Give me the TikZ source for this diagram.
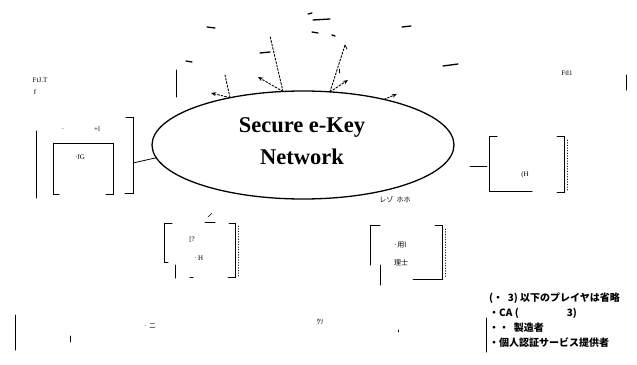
\documentclass[tikz,border=0pt]{standalone}
\usepackage{fontspec}
\setmainfont{Liberation Serif}
\newfontfamily\jp{Noto Sans CJK JP}
\usetikzlibrary{shapes.geometric,arrows.meta}
\begin{document}
\begin{tikzpicture}[x=1pt,y=-1pt,line cap=round,
  brk/.style={line width=1pt},
  dsh/.style={dashed,dash pattern=on 2pt off 1.6pt,line width=0.9pt},
  smark/.style={line width=1.3pt},
  scrap/.style={font=\fontsize{7}{7}\selectfont,inner sep=0pt},
  title/.style={font=\bfseries\fontsize{22.5}{22.5}\selectfont,inner sep=0pt},
  note/.style={font=\jp\bfseries\fontsize{10}{10}\selectfont,inner sep=0pt,anchor=west}]
\useasboundingbox (0,0) rectangle (637,364);
% network ellipse
\node[draw,ellipse,line width=1.3pt,minimum width=302pt,minimum height=108pt,inner sep=0pt] (net) at (303,145) {};
\node[title] (t1) at (302,127) {Secure e-Key};
\node[title] (t2) at (302,157) {Network};
% left group
\draw[brk] (36,131) -- (36,198);
\draw[brk] (126,117) -- (133,117) -- (133,193) -- (125,193);
\draw[brk] (59,194) -- (53,194) -- (53,143) -- (113,143) -- (113,194) -- (106,194);
\node[scrap] (l1) at (80,157) {·fG};
\node[scrap] (l2) at (97,129) {+l};
\node[scrap] (l3) at (63,129) {.};
\coordinate (lc) at (133,163);
\draw[line width=0.8pt] (lc) -- (net.185);
\node[scrap] (ftj) at (40,80) {FtJ.T};
\node[scrap] (ftf) at (35,92) {f};
% right group
\draw[brk] (497,136) -- (489,136) -- (489,191) -- (532,191);
\draw[brk] (557,136) -- (564,136) -- (564,192) -- (557,192);
\draw[dotted,line width=0.6pt] (567,140) -- (567,190);
\node[scrap] (r1) at (525,175) {(H};
\coordinate (rc) at (470,166);
\coordinate (rb) at (487,166);
\draw[line width=0.8pt] (rc) -- (rb);
\node[scrap] (ftl) at (567,73) {Ftl1};
\draw[brk] (626,75) -- (626,90);
\node[scrap] (under) at (395,200) {\jp レゾ\ \ ホホ};
% bottom-centre group
\draw[brk] (172,223) -- (164,223) -- (164,262) -- (168,262);
\draw[brk] (229,223) -- (235,223) -- (235,277) -- (228,277);
\draw[dotted,line width=0.6pt] (238,226) -- (238,276);
\draw[brk] (175,265) -- (175,278);
\draw[brk] (190,277) -- (193,277);
\draw[brk] (205,222) -- (215,222);
\draw[line width=0.6pt] (208,217) -- (212,213);
\node[scrap] (c1) at (192,240) {[?};
\node[scrap] (c2) at (199,258) {·\,H};
% bottom-right group
\draw[brk] (380,225) -- (370,225) -- (370,265);
\draw[brk] (380,265) -- (380,285);
\draw[brk] (435,225) -- (442,225) -- (442,279) -- (413,279);
\draw[dotted,line width=0.6pt] (445,229) -- (445,277);
\node[scrap] (d1) at (400,245) {\jp ·用l};
\node[scrap] (d2) at (401,263) {\jp 理士};
% top dashed arrows
\coordinate (p1) at (230,97.7);
\coordinate (p2) at (283,91.5);
\coordinate (p3) at (330,91.9);
\coordinate (p4) at (384,99.4);
\coordinate (q1) at (225,75);
\coordinate (q2) at (270,36);
\coordinate (q3) at (345,45);
\coordinate (a1) at (211,93);
\coordinate (a2) at (258,77);
\coordinate (a3) at (348,80);
\coordinate (a4) at (397,94);
\draw[dsh] (p1) -- (q1);
\draw[dsh,-{Stealth[length=5pt,width=4pt]}] (p1) -- (a1);
\draw[dsh] (p2) -- (q2);
\draw[dsh,-{Stealth[length=5pt,width=4pt]}] (p2) -- (a2);
\draw[dsh] (p3) -- (q3);
\draw[line width=0.8pt] (q3) -- (347,49);
\draw[dsh,-{Stealth[length=5pt,width=4pt]}] (p3) -- (a3);
\draw[dsh,-{Stealth[length=5pt,width=4pt]}] (p4) -- (a4);
\draw[brk] (176,70) -- (176,97);
% scattered marks at the top
\draw[smark] (207,27) -- (215,28);
\draw[smark] (186,61) -- (192,62);
\draw[smark] (260,53) -- (270,52);
\draw[smark] (308,14) -- (312,13);
\draw[smark] (313,20) -- (330,19);
\draw[smark] (312,32) -- (318,33);
\draw[smark] (332,35) -- (335,36);
\draw[smark] (402,27) -- (411,26);
\draw[smark] (443,66) -- (458,64);
\draw[line width=0.8pt] (339,69) -- (339,73);
% bottom-left marks
\draw[brk] (15,315) -- (15,350);
\draw[line width=0.8pt] (70,336) -- (70,342);
\node[scrap] (b1) at (150,326) {\jp ·\,ニ};
\node[scrap] (b2) at (320,322) {\jp ｳｿ};
\draw[line width=0.8pt] (398,330) -- (398,332);
% note
\draw[brk] (486,318) -- (486,352);
\node[note] (n1) at (489,298) {(・\ \ 3) 以下のプレイヤは省略};
\node[note] (n2) at (489,313) {・CA (\hspace{48pt}3)};
\node[note] (n3) at (489,328) {・・\ \ 製造者};
\node[note] (n4) at (489,343) {・個人認証サービス提供者};
\end{tikzpicture}
\end{document}
